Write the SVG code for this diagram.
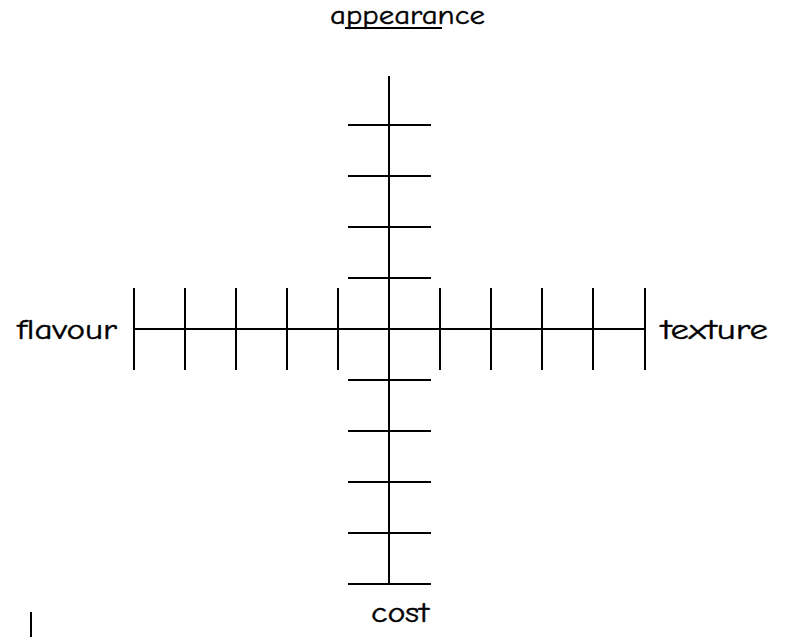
<svg xmlns="http://www.w3.org/2000/svg" width="796" height="637" viewBox="0 0 796 637">
<style>
.ln{stroke:#000;stroke-width:2;fill:none}
.lb{font-family:"Comic Sans MS","Comic Neue","DejaVu Sans",sans-serif;font-size:28px;fill:#000;stroke:#000;stroke-width:0.4}
</style>
<rect width="796" height="637" fill="#fff"/>
<g id="connectors" class="ln">
<line x1="389" y1="76" x2="389" y2="583"/>
<line x1="134" y1="329" x2="645" y2="329"/>
<path d="M348 125H431M348 176H431M348 227H431M348 278H431M348 380H431M348 431H431M348 482H431M348 533H431M348 584H431"/>
<path d="M134 288V370M185 288V370M236 288V370M287 288V370M338 288V370M440 288V370M491 288V370M542 288V370M593 288V370M645 288V370"/>
<line x1="31" y1="612" x2="31" y2="637"/>
</g>
<g id="appearance"><text class="lb" x="330" y="24" style="font-size:26px" textLength="155" lengthAdjust="spacingAndGlyphs">appearance</text><line class="ln" x1="345" y1="28" x2="442" y2="28"/></g>
<g id="flavour"><text class="lb" x="17" y="339" textLength="100" lengthAdjust="spacingAndGlyphs">flavour</text></g>
<g id="texture"><text class="lb" x="661" y="339" textLength="107" lengthAdjust="spacingAndGlyphs">texture</text></g>
<g id="cost"><text class="lb" x="371" y="622" textLength="58" lengthAdjust="spacingAndGlyphs">cost</text></g>
</svg>
